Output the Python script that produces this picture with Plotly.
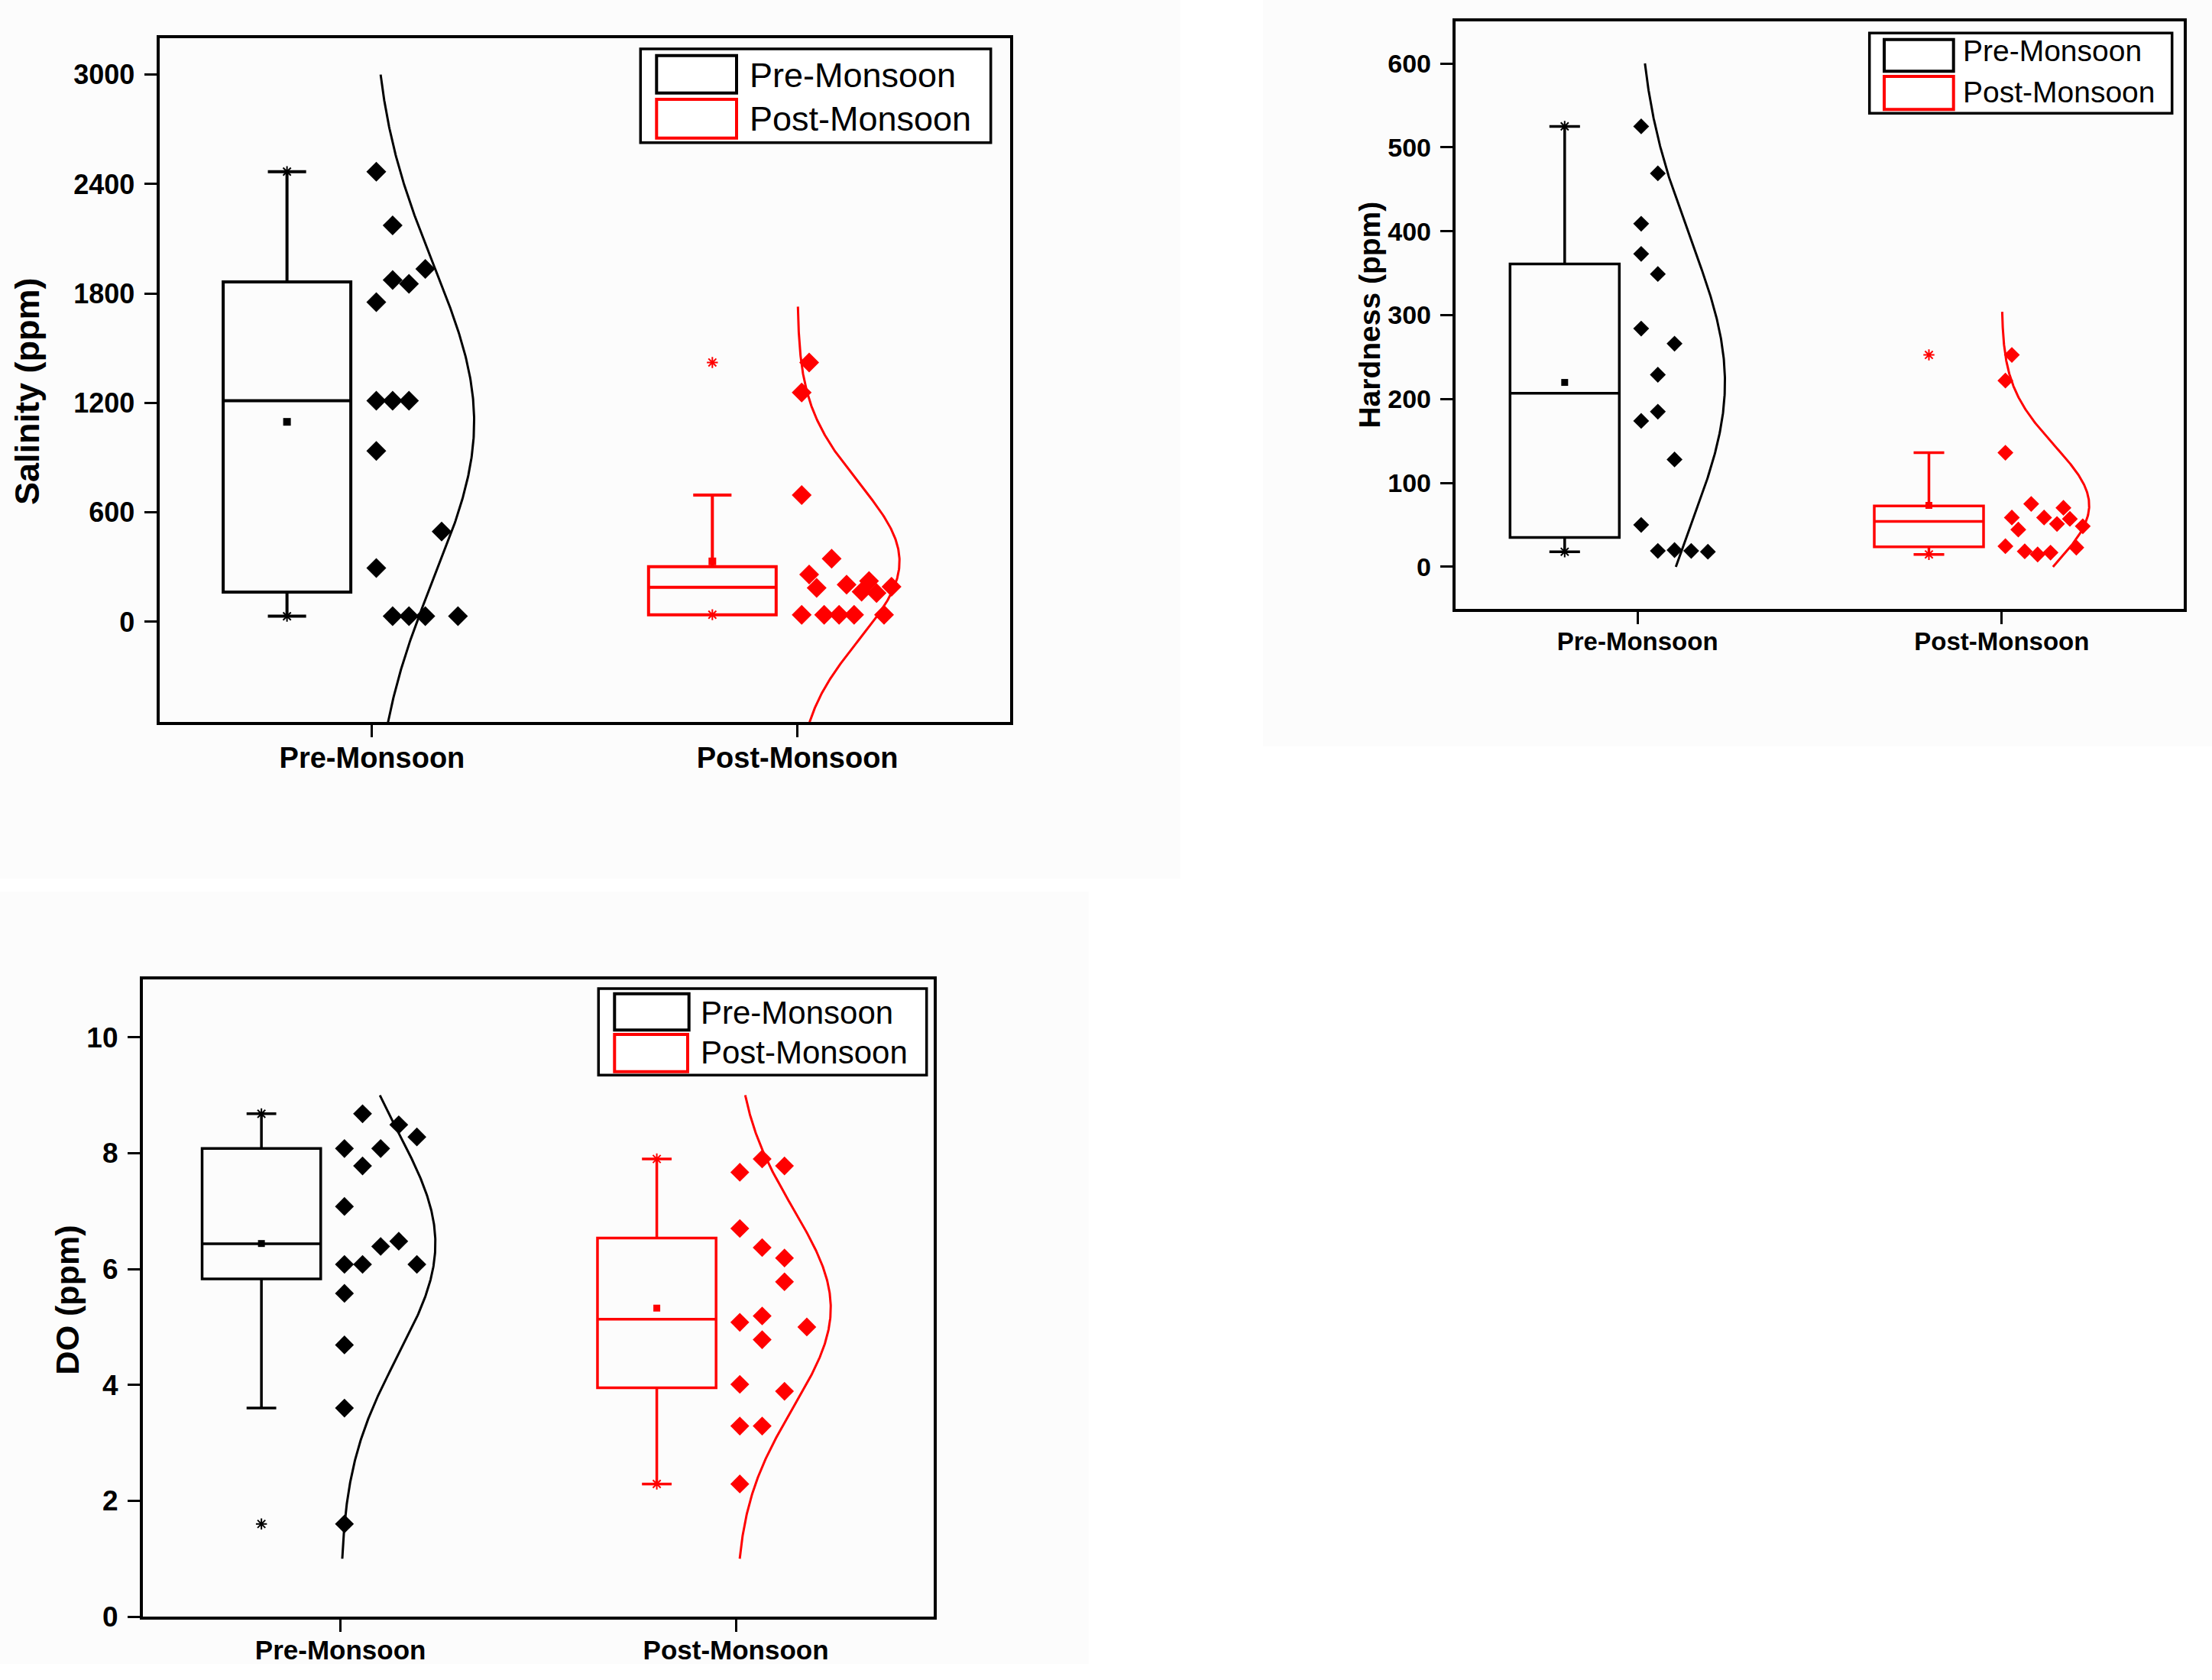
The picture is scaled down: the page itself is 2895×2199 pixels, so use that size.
import numpy as np
import plotly.graph_objects as go

W, H = 2895, 2199
H_EFF = 2178  # vertical extent the page is actually shown at
FONT = "Liberation Sans, Arial, sans-serif"
BLACK, RED = "#000000", "#ff0000"

categories = ["Pre-Monsoon", "Post-Monsoon"]

# ---------------- Salinity (ppm) ----------------
sal_pre = [2468, 2173, 1935, 1874, 1853, 1753, 1212, 1212, 1212, 937, 495, 295, 31, 31, 31, 31]
sal_pre_slot = [0, 1, 3, 1, 2, 0, 0, 1, 2, 0, 4, 0, 1, 2, 3, 5]
sal_post = [1422, 1257, 695, 346, 260, 186, 204, 224, 165, 158, 193, 39, 39, 39, 39, 39]
sal_post_slot = [1, 0, 0, 4, 1, 2, 6, 9, 8, 10, 12, 0, 3, 5, 7, 11]
sal_ticks = [0, 600, 1200, 1800, 2400, 3000]
sal_range = [-550, 3200]
sal_curve_pre = [-550, 3000]
sal_curve_post = [-550, 1728]

# ---------------- Hardness (ppm) ----------------
hard_pre = [525, 469, 409, 373, 349, 284, 266, 229, 185, 174, 128, 50, 19, 20, 19, 18]
hard_pre_slot = [0, 1, 0, 0, 1, 0, 2, 1, 1, 0, 2, 0, 1, 2, 3, 4]
hard_post = [252.6, 222, 136, 75, 58.8, 58.8, 70.4, 57.2, 44.4, 51.1, 48.4, 24.6, 23, 18.5, 14.8, 17]
hard_post_slot = [1, 0, 0, 4, 1, 6, 9, 10, 2, 8, 12, 0, 11, 3, 5, 7]
hard_ticks = [0, 100, 200, 300, 400, 500, 600]
hard_range = [-50, 650]
hard_curve_pre = [0, 600]
hard_curve_post = [0, 304]

# ---------------- DO (ppm) ----------------
do_pre = [8.68, 8.49, 8.28, 8.08, 8.08, 7.78, 7.08, 6.39, 6.48, 6.08, 6.08, 6.08, 5.58, 4.69, 3.60, 1.60]
do_pre_slot = [1, 3, 4, 0, 2, 1, 0, 2, 3, 0, 1, 4, 0, 0, 0, 0]
do_post = [7.90, 7.78, 7.67, 6.70, 6.37, 6.19, 5.78, 5.19, 5.08, 5.00, 4.78, 4.01, 3.89, 3.29, 3.29, 2.29]
do_post_slot = [1, 2, 0, 0, 1, 2, 2, 1, 0, 3, 1, 0, 2, 0, 1, 0]
do_ticks = [0, 2, 4, 6, 8, 10]
do_range = [0, 11]
do_curve_pre = [1, 9]
do_curve_post = [1, 9]


def px(x):
    return x / W


def py(y):
    return max(0.0, 1 - y / H_EFF)


def box_stats(vals):
    v = np.sort(np.asarray(vals, float))
    n = len(v)
    half = n // 2
    lower = v[:half]
    upper = v[half:] if n % 2 == 0 else v[half + 1:]
    q1, med, q3 = np.median(lower), np.median(v), np.median(upper)
    iqr = q3 - q1
    lo = v[v >= q1 - 1.5 * iqr].min()
    hi = v[v <= q3 + 1.5 * iqr].max()
    return q1, med, q3, lo, hi, v.mean(), v.min(), v.max(), v.std(ddof=1)


panels = [
    dict(name="1", title="Salinity (ppm)",
         groups=[(sal_pre, sal_pre_slot, 0.0384, sal_curve_pre),
                 (sal_post, sal_post_slot, 0.0176, sal_curve_post)],
         ticks=sal_ticks, yrange=sal_range,
         dom_px=(208.6, 1322.0, 49.9, 945.3),
         tick_fs=36, cat_fs=38, title_fs=45, title_xy=(36, 512),
         lw=4, whisk=0.3, dsize=20, msize=10,
         legend=dict(box=(838.3, 64, 1296.7, 186.7),
                     sw1=(859.3, 72.7, 964, 121.7), sw2=(859.3, 130, 964, 180.7),
                     tx=979.3, ty=(98, 155), fs=45),
         bg=(0, 0, 1545, 1150)),
    dict(name="2", title="Hardness (ppm)",
         groups=[(hard_pre, hard_pre_slot, 0.0458, hard_curve_pre),
                 (hard_post, hard_post_slot, 0.0177, hard_curve_post)],
         ticks=hard_ticks, yrange=hard_range,
         dom_px=(1904.8, 2858.2, 28.1, 796.9),
         tick_fs=34, cat_fs=33, title_fs=39, title_xy=(1793, 412.6),
         lw=3.5, whisk=0.28, dsize=16, msize=9,
         legend=dict(box=(2446.7, 43.3, 2842.7, 148.3),
                     sw1=(2466, 51.7, 2556.7, 93.3), sw2=(2466, 100, 2556.7, 143.3),
                     tx=2566.7, ty=(67, 120), fs=39),
         bg=(1653, 0, 2895, 977)),
    dict(name="3", title="DO (ppm)",
         groups=[(do_pre, do_pre_slot, 0.0458, do_curve_pre),
                 (do_post, do_post_slot, 0.0565, do_curve_post)],
         ticks=do_ticks, yrange=do_range,
         dom_px=(186.9, 1221.8, 1281.9, 2116.1),
         tick_fs=37, cat_fs=35, title_fs=43, title_xy=(88, 1701.4),
         lw=3.5, whisk=0.25, dsize=19, msize=9,
         legend=dict(box=(783.3, 1294, 1212.7, 1407.3),
                     sw1=(804.3, 1300.7, 901.7, 1348.3), sw2=(804.3, 1354, 900, 1402.7),
                     tx=915, ty=(1325, 1377), fs=42),
         bg=(0, 1167, 1425, 2230)),
]

colors = [BLACK, RED]
BOX_OFF, BOX_W, DOT_OFF, CURVE_AMP = -0.2, 0.3, 0.01, 0.24

fig = go.Figure()
shapes, annotations = [], []
layout = {}

for p in panels:
    xa = "x" if p["name"] == "1" else "x" + p["name"]
    ya = "y" if p["name"] == "1" else "y" + p["name"]
    for ci, (vals, slots, step, crange) in enumerate(p["groups"]):
        col = colors[ci]
        q1, med, q3, lo, hi, mean, vmin, vmax, sd = box_stats(vals)
        bx = ci + BOX_OFF
        fig.add_trace(go.Box(
            x=[bx], q1=[q1], median=[med], q3=[q3], lowerfence=[lo], upperfence=[hi],
            width=BOX_W, whiskerwidth=p["whisk"], boxpoints=False,
            fillcolor="rgba(0,0,0,0)", line=dict(color=col, width=p["lw"]),
            xaxis=xa, yaxis=ya, showlegend=False, hoverinfo="skip"))
        # mean marker
        fig.add_trace(go.Scatter(
            x=[bx], y=[mean], mode="markers",
            marker=dict(symbol="square", size=p["msize"], color=col),
            xaxis=xa, yaxis=ya, showlegend=False))
        # min / max markers
        fig.add_trace(go.Scatter(
            x=[bx, bx], y=[vmin, vmax], mode="markers",
            marker=dict(symbol="asterisk-open", size=12, color=col,
                        line=dict(color=col, width=2)),
            xaxis=xa, yaxis=ya, showlegend=False))
        # data points
        xs = [ci + DOT_OFF + s * step for s in slots]
        fig.add_trace(go.Scatter(
            x=xs, y=vals, mode="markers",
            marker=dict(symbol="diamond", size=p["dsize"], color=col, line=dict(width=0)),
            xaxis=xa, yaxis=ya, showlegend=False))
        # normal curve
        yy = np.linspace(crange[0], crange[1], 300)
        xx = ci + CURVE_AMP * np.exp(-0.5 * ((yy - mean) / sd) ** 2)
        fig.add_trace(go.Scatter(
            x=xx, y=yy, mode="lines", line=dict(color=col, width=3),
            xaxis=xa, yaxis=ya, showlegend=False, hoverinfo="skip"))

    x0, x1, y0, y1 = p["dom_px"]
    axis_common = dict(showline=True, linewidth=4, linecolor="black", mirror=True,
                       ticks="outside", ticklen=16, tickwidth=3, tickcolor="black",
                       showgrid=False, zeroline=False)
    xkey = "xaxis" if p["name"] == "1" else "xaxis" + p["name"]
    ykey = "yaxis" if p["name"] == "1" else "yaxis" + p["name"]
    layout[xkey] = dict(axis_common, domain=[px(x0), px(x1)], range=[-0.5, 1.5],
                        tickvals=[0, 1], ticktext=categories, anchor=ya,
                        ticklabelstandoff=-6,
                        tickfont=dict(family=FONT, size=p["cat_fs"], color="black", weight="bold"))
    layout[ykey] = dict(axis_common, domain=[py(y1), py(y0)], range=p["yrange"],
                        tickvals=p["ticks"], anchor=xa, ticklabelstandoff=5,
                        tickfont=dict(family=FONT, size=p["tick_fs"], color="black", weight="bold"))

    # y title
    tx, ty = p["title_xy"]
    annotations.append(dict(text=p["title"], x=px(tx), y=py(ty), xref="paper", yref="paper",
                            textangle=-90, showarrow=False, xanchor="center", yanchor="middle",
                            font=dict(family=FONT, size=p["title_fs"], color="black", weight="bold")))

    # background (source image region)
    bx0, by0, bx1, by1 = p["bg"]
    shapes.append(dict(type="rect", xref="paper", yref="paper", layer="below",
                       x0=px(bx0), x1=px(bx1), y0=py(by1), y1=py(by0),
                       fillcolor="#fcfcfc", line=dict(width=0)))

    # legend drawn manually
    lg = p["legend"]
    b = lg["box"]
    shapes.append(dict(type="rect", xref="paper", yref="paper",
                       x0=px(b[0]), x1=px(b[2]), y0=py(b[3]), y1=py(b[1]),
                       fillcolor="white", line=dict(color="black", width=3.5)))
    for sw, col in ((lg["sw1"], BLACK), (lg["sw2"], RED)):
        shapes.append(dict(type="rect", xref="paper", yref="paper",
                           x0=px(sw[0]), x1=px(sw[2]), y0=py(sw[3]), y1=py(sw[1]),
                           fillcolor="rgba(0,0,0,0)", line=dict(color=col, width=4)))
    for cat, yy_ in zip(categories, lg["ty"]):
        annotations.append(dict(text=cat, x=px(lg["tx"]), y=py(yy_), xref="paper", yref="paper",
                                showarrow=False, xanchor="left", yanchor="middle",
                                font=dict(family=FONT, size=lg["fs"], color="black")))

fig.update_layout(
    width=W, height=H, autosize=False,
    margin=dict(l=0, r=0, t=0, b=0),
    paper_bgcolor="white", plot_bgcolor="rgba(0,0,0,0)",
    showlegend=False, shapes=shapes, annotations=annotations,
    **layout)

fig.write_html("out.html", config={"displayModeBar": False},
               post_script="document.body.style.margin='0px';document.body.style.overflow='hidden';")
